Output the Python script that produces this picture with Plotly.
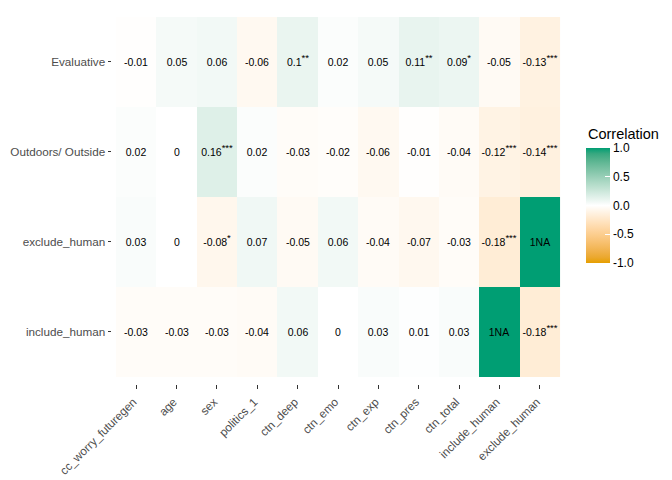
import plotly.graph_objects as go

columns = ["cc_worry_futuregen", "age", "sex", "politics_1", "ctn_deep", "ctn_emo",
           "ctn_exp", "ctn_pres", "ctn_total", "include_human", "exclude_human"]
rows = ["include_human", "exclude_human", "Outdoors/ Outside", "Evaluative"]

corr_include = [-0.03, -0.03, -0.03, -0.04, 0.06, 0, 0.03, 0.01, 0.03, 1, -0.18]
stars_include = ["", "", "", "", "", "", "", "", "", "NA", "***"]
corr_exclude = [0.03, 0, -0.08, 0.07, -0.05, 0.06, -0.04, -0.07, -0.03, -0.18, 1]
stars_exclude = ["", "", "*", "", "", "", "", "", "", "***", "NA"]
corr_outdoors = [0.02, 0, 0.16, 0.02, -0.03, -0.02, -0.06, -0.01, -0.04, -0.12, -0.14]
stars_outdoors = ["", "", "***", "", "", "", "", "", "", "***", "***"]
corr_evaluative = [-0.01, 0.05, 0.06, -0.06, 0.1, 0.02, 0.05, 0.11, 0.09, -0.05, -0.13]
stars_evaluative = ["", "", "", "", "**", "", "", "**", "*", "", "***"]

z = [corr_include, corr_exclude, corr_outdoors, corr_evaluative]
stars = [stars_include, stars_exclude, stars_outdoors, stars_evaluative]


def fmt(v):
    s = f"{v:.2f}".rstrip("0").rstrip(".")
    return "0" if s in ("-0", "") else s


text = []
for zr, sr in zip(z, stars):
    row = []
    for v, s in zip(zr, sr):
        if s == "NA":
            row.append(fmt(v) + "NA")
        elif s:
            row.append(fmt(v) + "<sup><span style='font-size:9.5px'>" + s + "</span></sup>")
        else:
            row.append(fmt(v))
    text.append(row)


# Lab-space interpolation to mimic ggplot's gradient2
def srgb_to_lin(c):
    c = c / 255.0
    return c / 12.92 if c <= 0.04045 else ((c + 0.055) / 1.055) ** 2.4


def lin_to_srgb(c):
    c = max(0.0, min(1.0, c))
    v = 12.92 * c if c <= 0.0031308 else 1.055 * c ** (1 / 2.4) - 0.055
    return int(round(max(0, min(1, v)) * 255))


WX, WY, WZ = 0.95047, 1.0, 1.08883


def f(t):
    return t ** (1 / 3) if t > 216 / 24389 else (24389 / 27 * t + 16) / 116


def finv(t):
    return t ** 3 if t ** 3 > 216 / 24389 else (116 * t - 16) / (24389 / 27)


def hex_to_lab(h):
    r, g, b = [srgb_to_lin(int(h[i:i + 2], 16)) for i in (1, 3, 5)]
    X = 0.4124 * r + 0.3576 * g + 0.1805 * b
    Y = 0.2126 * r + 0.7152 * g + 0.0722 * b
    Z = 0.0193 * r + 0.1192 * g + 0.9505 * b
    fx, fy, fz = f(X / WX), f(Y / WY), f(Z / WZ)
    return (116 * fy - 16, 500 * (fx - fy), 200 * (fy - fz))


def lab_to_rgb(L, a, b):
    fy = (L + 16) / 116
    fx = fy + a / 500
    fz = fy - b / 200
    X, Y, Z = WX * finv(fx), WY * finv(fy), WZ * finv(fz)
    r = 3.2406 * X - 1.5372 * Y - 0.4986 * Z
    g = -0.9689 * X + 1.8758 * Y + 0.0415 * Z
    bb = 0.0557 * X - 0.2040 * Y + 1.0570 * Z
    return f"rgb({lin_to_srgb(r)},{lin_to_srgb(g)},{lin_to_srgb(bb)})"


low, mid, high = hex_to_lab("#E69F00"), hex_to_lab("#FFFFFF"), hex_to_lab("#009E73")
colorscale = []
n = 20
for i in range(n + 1):
    t = i / n
    if t <= 0.5:
        u = t / 0.5
        c = [low[k] + (mid[k] - low[k]) * u for k in range(3)]
    else:
        u = (t - 0.5) / 0.5
        c = [mid[k] + (high[k] - mid[k]) * u for k in range(3)]
    colorscale.append([t, lab_to_rgb(*c)])

font_family = "Liberation Sans, Arial, sans-serif"

# page body has an 8px default margin; work in screen coords minus 8
OFF = 8
W, H = 672, 480
# panel (with ggplot's 0.6 discrete expansion) in screen px
PX0, PX1, PY0, PY1 = 112, 564, 8, 384
L, T = PX0 - OFF, max(0, PY0 - OFF)
R = W - (PX1 - OFF)
B = H - (PY1 - OFF)
pw, ph = W - L - R, H - T - B


def px_x(sx):
    return (sx - OFF - L) / pw


def px_y(sy):
    return (H - B - (sy - OFF)) / ph


fig = go.Figure(go.Heatmap(
    z=z, x=columns, y=rows, text=text, texttemplate="%{text}",
    textfont=dict(family=font_family, size=10.5, color="black"),
    zmin=-1, zmax=1, colorscale=colorscale, xgap=0, ygap=0,
    hoverinfo="skip",
    colorbar=dict(
        x=px_x(586), xanchor="left", xpad=0,
        y=px_y(205.5), yanchor="middle", ypad=0,
        thickness=24, thicknessmode="pixels",
        len=115, lenmode="pixels",
        tickvals=[-1, -0.5, 0, 0.5, 1],
        ticktext=["-1.0", "-0.5", "0.0", "0.5", "1.0"],
        ticks="inside", ticklen=5, tickcolor="white", tickwidth=1,
        tickfont=dict(family=font_family, size=12, color="black"),
        outlinewidth=0,
    ),
))

fig.add_annotation(
    text="Correlation", xref="paper", yref="paper",
    x=px_x(586), y=px_y(134), xanchor="left", yanchor="middle",
    showarrow=False, font=dict(family=font_family, size=14.5, color="black"),
)

fig.update_layout(
    width=W, height=H,
    margin=dict(l=L, r=R, t=T, b=B, autoexpand=False),
    paper_bgcolor="white", plot_bgcolor="white",
    font=dict(family=font_family),
)
fig.update_xaxes(
    range=[-0.6, len(columns) - 0.4],
    tickangle=-45, ticks="outside", ticklen=3.5, tickcolor="#333333", tickwidth=1,
    tickfont=dict(family=font_family, size=11.7, color="#4D4D4D"),
    ticklabelshift=-3, ticklabelstandoff=2,
    showgrid=False, zeroline=False, showline=False,
)
fig.update_yaxes(
    range=[-0.58, len(rows) - 0.4],
    ticks="outside", ticklen=3.5, tickcolor="#333333", tickwidth=1,
    tickfont=dict(family=font_family, size=11.7, color="#4D4D4D"),
    showgrid=False, zeroline=False, showline=False,
)

fig.write_html("out.html")
